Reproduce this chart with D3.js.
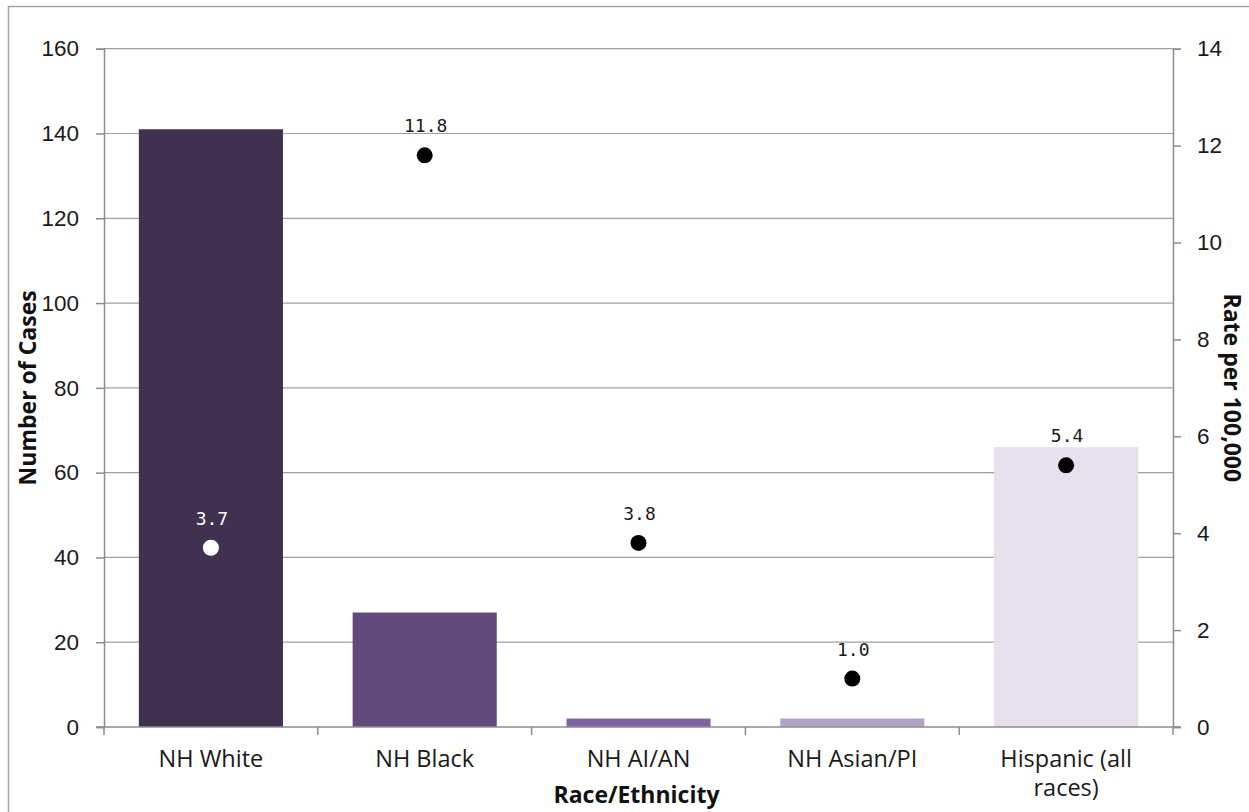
<!DOCTYPE html>
<html>
<head>
<meta charset="utf-8">
<script src="https://cdn.jsdelivr.net/npm/d3@7"></script>
<style>
  html, body { margin: 0; padding: 0; background: #fff; }
  svg { display: block; }
</style>
</head>
<body>
<svg id="chart" width="1249" height="812"></svg>
<script>
// Cases and rates by race/ethnicity
const categories = ["NH White", "NH Black", "NH AI/AN", "NH Asian/PI", "Hispanic (all races)"];
const categoryLines = [["NH White"], ["NH Black"], ["NH AI/AN"], ["NH Asian/PI"], ["Hispanic (all", "races)"]];
const cases = [141, 27, 2, 2, 66];
const rates = [3.7, 11.8, 3.8, 1.0, 5.4];
const rateLabels = ["3.7", "11.8", "3.8", "1.0", "5.4"];
const barColors = ["#403151", "#604a7b", "#8064a2", "#b3a2c7", "#e5e0ec"];
const dotColors = ["#ffffff", "#000000", "#000000", "#000000", "#000000"];
const labelColors = ["#ffffff", "#1a1a1a", "#1a1a1a", "#1a1a1a", "#1a1a1a"];
const leftTicks = [0, 20, 40, 60, 80, 100, 120, 140, 160];
const rightTicks = [0, 2, 4, 6, 8, 10, 12, 14];

const svg = d3.select("#chart");
const margin = { left: 104, right: 1173, top: 48.7, bottom: 727 };
const textFont = "Open Sans, DejaVu Sans, sans-serif";
const numFont = "Liberation Sans, Arial, sans-serif";

// outer frame
svg.append("rect")
  .attr("x", 8.5).attr("y", 6.5).attr("width", 1260).attr("height", 820)
  .attr("fill", "none").attr("stroke", "#a6a6a6").attr("stroke-width", 1.5);

const x = d3.scaleBand().domain(categories).range([margin.left, margin.right]).paddingInner(0.326).paddingOuter(0.163);
const xOuter = d3.scaleBand().domain(categories).range([margin.left, margin.right]);
const yL = d3.scaleLinear().domain([0, 160]).range([margin.bottom, margin.top]);
const yR = d3.scaleLinear().domain([0, 14]).range([margin.bottom, margin.top]);

// horizontal gridlines on the case scale
svg.append("g").selectAll("line").data(leftTicks.filter(d => d > 0)).join("line")
  .attr("x1", margin.left).attr("x2", margin.right)
  .attr("y1", d => yL(d)).attr("y2", d => yL(d))
  .attr("stroke", "#a0a0a0").attr("stroke-width", 1.2);

// bars
svg.append("g").selectAll("rect").data(categories).join("rect")
  .attr("x", d => x(d))
  .attr("width", x.bandwidth())
  .attr("y", (d, i) => yL(cases[i]))
  .attr("height", (d, i) => yL(0) - yL(cases[i]))
  .attr("fill", (d, i) => barColors[i]);

// left axis
const leftAxis = svg.append("g").attr("transform", `translate(${margin.left},0)`)
  .call(d3.axisLeft(yL).tickValues(leftTicks).tickSize(8).tickPadding(17));
leftAxis.select(".domain").attr("stroke", "#8c8c8c").attr("stroke-width", 1.5);
leftAxis.selectAll(".tick line").attr("stroke", "#8c8c8c").attr("stroke-width", 1.5);
leftAxis.selectAll("text").attr("font-family", numFont)
  .attr("font-size", 22.5).attr("fill", "#1a1a1a");

// right axis
const rightAxis = svg.append("g").attr("transform", `translate(${margin.right},0)`)
  .call(d3.axisRight(yR).tickValues(rightTicks).tickSize(8).tickPadding(16));
rightAxis.select(".domain").attr("stroke", "#8c8c8c").attr("stroke-width", 1.5);
rightAxis.selectAll(".tick line").attr("stroke", "#8c8c8c").attr("stroke-width", 1.5);
rightAxis.selectAll("text").attr("font-family", numFont)
  .attr("font-size", 22.5).attr("fill", "#1a1a1a");

// bottom axis with ticks between categories
const bottom = svg.append("g");
bottom.append("line").attr("x1", margin.left - 8).attr("x2", margin.right + 8)
  .attr("y1", margin.bottom).attr("y2", margin.bottom)
  .attr("stroke", "#8c8c8c").attr("stroke-width", 1.5);
const boundaries = categories.map(d => xOuter(d)).concat([margin.right]);
bottom.selectAll("line.tk").data(boundaries).join("line").attr("class", "tk")
  .attr("x1", d => d).attr("x2", d => d)
  .attr("y1", margin.bottom).attr("y2", margin.bottom + 8)
  .attr("stroke", "#8c8c8c").attr("stroke-width", 1.5);

// category labels
const catText = bottom.selectAll("text.cat").data(categories).join("text").attr("class", "cat")
  .attr("x", d => xOuter(d) + xOuter.bandwidth() / 2)
  .attr("y", 767)
  .attr("text-anchor", "middle")
  .attr("font-family", textFont)
  .attr("font-size", 23.5).attr("fill", "#1a1a1a");
catText.each(function(d, i) {
  const t = d3.select(this);
  categoryLines[i].forEach((line, j) => {
    t.append("tspan").attr("x", xOuter(d) + xOuter.bandwidth() / 2)
      .attr("dy", j === 0 ? 0 : 29).text(line);
  });
});

// rate markers
svg.append("g").selectAll("circle").data(categories).join("circle")
  .attr("cx", d => xOuter(d) + xOuter.bandwidth() / 2)
  .attr("cy", (d, i) => yR(rates[i]))
  .attr("r", 8)
  .attr("fill", (d, i) => dotColors[i]);

// rate labels
svg.append("g").selectAll("text").data(categories).join("text")
  .attr("x", d => xOuter(d) + xOuter.bandwidth() / 2 + 1)
  .attr("y", (d, i) => yR(rates[i]) - 23)
  .attr("text-anchor", "middle")
  .attr("font-family", "DejaVu Sans Mono, monospace")
  .attr("font-size", 18)
  .attr("fill", (d, i) => labelColors[i])
  .text((d, i) => rateLabels[i]);

// axis titles
svg.append("text")
  .attr("transform", `translate(36,${(margin.top + margin.bottom) / 2}) rotate(-90)`)
  .attr("text-anchor", "middle")
  .attr("font-family", textFont)
  .attr("font-weight", "bold").attr("font-size", 23).attr("fill", "#111")
  .text("Number of Cases");
svg.append("text")
  .attr("transform", `translate(1224,${(margin.top + margin.bottom) / 2}) rotate(90)`)
  .attr("text-anchor", "middle")
  .attr("font-family", textFont)
  .attr("font-weight", "bold").attr("font-size", 23).attr("fill", "#111")
  .text("Rate per 100,000");
svg.append("text")
  .attr("x", (margin.left + margin.right) / 2 - 2).attr("y", 803)
  .attr("text-anchor", "middle")
  .attr("font-family", textFont)
  .attr("font-weight", "bold").attr("font-size", 23).attr("fill", "#111")
  .text("Race/Ethnicity");
</script>
</body>
</html>
